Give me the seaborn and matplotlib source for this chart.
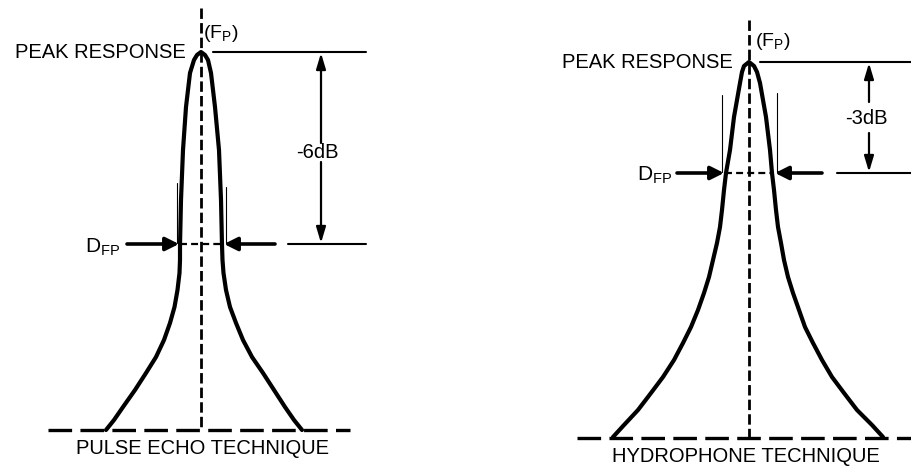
import matplotlib
matplotlib.use("Agg")
import matplotlib.pyplot as plt
import seaborn as sns
import pandas as pd

# ---------------- data (pixel-space readings, y grows downward) ----------------
# Pulse echo curve: y level, left edge x, right edge x
pe_y  = [430, 420, 407, 390, 373, 357, 340, 323, 307, 290, 273, 260, 245, 200, 150, 107, 73, 60, 55, 52]
pe_xl = [106, 114, 123, 135, 146, 156, 164, 170, 174.5, 177.5, 179.5, 180, 180, 181, 183, 186, 190, 194, 197, 201]
pe_xr = [302, 294, 285, 274, 263, 252, 243, 236, 230, 226, 223.5, 222.5, 222, 221, 219, 215, 211, 208, 205, 201]

# Hydrophone curve
hy_y  = [437, 425, 410, 393, 377, 360, 343, 327, 310, 293, 277, 260, 243, 227, 210, 190, 173, 150, 117, 83, 72, 66, 62]
hy_xl = [613, 624, 638, 651, 663, 674, 683, 691, 698, 704, 709, 713, 717, 720, 722, 724, 726, 730, 734, 740, 742, 744, 749]
hy_xr = [883, 872, 857, 844, 832, 822, 813, 805, 799, 793, 788, 784, 781, 778, 776, 774, 772, 770, 766, 760, 757, 754, 749]

techniques = ["PULSE ECHO TECHNIQUE", "HYDROPHONE TECHNIQUE"]
db_labels = ["-6dB", "-3dB"]
center_x = [201, 749]
peak_y = [52, 62]
level_y = [244, 173]
base_y = [430, 438]

# ---------------- style ----------------
sns.set_theme(style="white")
plt.rcParams["font.family"] = ["Liberation Sans", "DejaVu Sans"]
plt.rcParams["mathtext.fontset"] = "custom"
plt.rcParams["mathtext.rm"] = "Liberation Sans"
plt.rcParams["mathtext.it"] = "Liberation Sans"
plt.rcParams["lines.scale_dashes"] = False

fig = plt.figure(figsize=(9.11, 4.68), dpi=100)
ax = fig.add_axes([0, 0, 1, 1])

def curve_frame(ys, xl, xr):
    xs = list(xl) + list(xr[::-1])[1:]
    yy = list(ys) + list(ys[::-1])[1:]
    return pd.DataFrame({"x": xs, "y": yy})

for df in (curve_frame(pe_y, pe_xl, pe_xr), curve_frame(hy_y, hy_xl, hy_xr)):
    sns.lineplot(data=df, x="x", y="y", sort=False, estimator=None,
                 color="black", lw=3.0, ax=ax, solid_capstyle="round",
                 solid_joinstyle="round")

ax.set_xlim(0, 911)
ax.set_ylim(468, 0)
ax.axis("off")

# layout of annotations per panel
layout = [
    dict(top=8, base_x=(48, 350), hline_end=366, top_start=213,
         arr_x=321, arr_top_end=143, arr_bot_start=162, txt_y=152, txt_x=317,
         left_curve=180, right_curve=222, lvl_start=288, rarrow_tail=275,
         darrow=(127, 179), dtext=(85, 247), ticks=((177, 183), (226, 187)),
         peak_text=186, fp=(203, 34), tech=(203, 449)),
    dict(top=20, base_x=(577, 911), hline_end=911, top_start=760,
         arr_x=869, arr_top_end=102, arr_bot_start=133, txt_y=119, txt_x=866,
         left_curve=725, right_curve=773, lvl_start=837, rarrow_tail=822,
         darrow=(677, 724), dtext=(637, 175), ticks=((722, 95), (777, 93)),
         peak_text=733, fp=(755, 41), tech=(746, 457)),
]

vhead = "-|>,head_length=0.5,head_width=0.15"
fs = 14.5
for i, L in enumerate(layout):
    cx, py, ly, by = center_x[i], peak_y[i], level_y[i], base_y[i]
    # centre dashed line
    ax.plot([cx, cx], [L["top"], by], color="black", lw=2.0,
            linestyle=(0, (7.5, 3)))
    # baseline dashed
    ax.plot(L["base_x"], [by, by], color="black", lw=2.4,
            linestyle=(0, (17, 6)))
    # peak line
    ax.plot([L["top_start"], L["hline_end"]], [py, py], color="black", lw=1.5)
    # level line (solid outer part)
    ax.plot([L["lvl_start"], L["hline_end"]], [ly, ly], color="black", lw=1.5)
    # level dashed between curves
    ax.plot([L["left_curve"], L["right_curve"]], [ly, ly], color="black",
            lw=1.6, linestyle=(0, (5, 3)))
    # thin ticks
    for tx, ty in L["ticks"]:
        ax.plot([tx, tx], [ty, ly - 1], color="black", lw=0.8)
    # vertical dB arrow
    ax.annotate("", xy=(L["arr_x"], py + 1), xytext=(L["arr_x"], L["arr_top_end"]),
                arrowprops=dict(arrowstyle=vhead, color="black", lw=1.6,
                                mutation_scale=19, shrinkA=0, shrinkB=0))
    ax.annotate("", xy=(L["arr_x"], ly - 1), xytext=(L["arr_x"], L["arr_bot_start"]),
                arrowprops=dict(arrowstyle=vhead, color="black", lw=1.6,
                                mutation_scale=19, shrinkA=0, shrinkB=0))
    ax.text(L["txt_x"], L["txt_y"], db_labels[i], ha="center", va="center",
            fontsize=fs, color="black")
    # D_FP arrows
    ax.annotate("", xy=(L["darrow"][1], ly), xytext=(L["darrow"][0], ly),
                arrowprops=dict(arrowstyle="-|>", color="black", lw=2.6,
                                mutation_scale=20, shrinkA=0, shrinkB=0))
    ax.annotate("", xy=(L["right_curve"] + 2, ly), xytext=(L["rarrow_tail"], ly),
                arrowprops=dict(arrowstyle="-|>", color="black", lw=2.6,
                                mutation_scale=20, shrinkA=0, shrinkB=0))
    ax.text(L["dtext"][0], L["dtext"][1], r"$\mathrm{D_{FP}}$", ha="left",
            va="center", fontsize=fs + 0.5, color="black")
    # labels
    ax.text(L["peak_text"], py + 1, "PEAK RESPONSE", ha="right", va="center",
            fontsize=fs, color="black")
    ax.text(L["fp"][0], L["fp"][1], r"$\mathrm{(F_P)}$", ha="left", va="center",
            fontsize=14, color="black")
    ax.text(L["tech"][0], L["tech"][1], techniques[i], ha="center", va="center",
            fontsize=fs, color="black")

fig.savefig("out.png", dpi=100, facecolor="white")
